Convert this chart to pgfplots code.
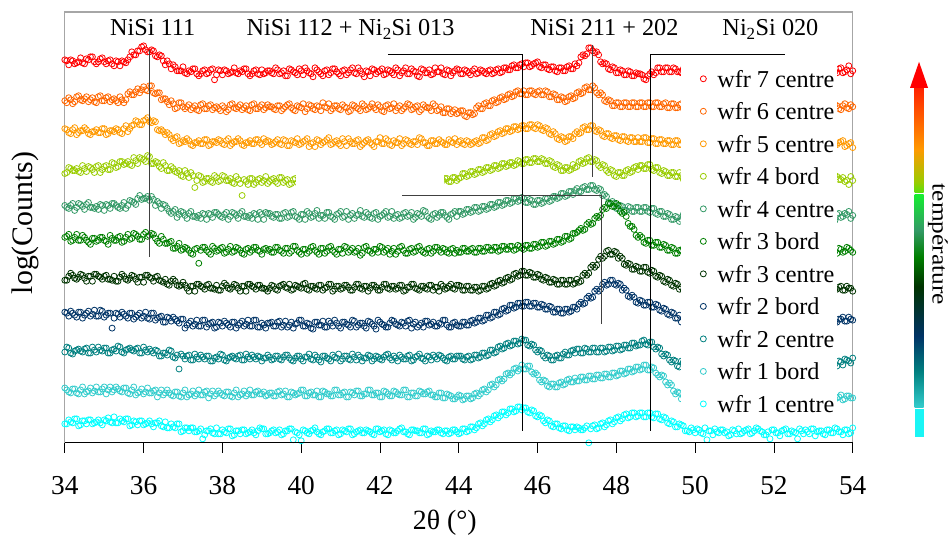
\documentclass[border=0pt]{standalone}
\usepackage{pgfplots}
\pgfplotsset{compat=1.18}
\usepackage{pgfplotstable}
\usepackage{fontspec}
\setmainfont{Liberation Serif}
\newcommand\fs[1]{\fontsize{#1}{#1}\selectfont}
\definecolor{c1}{HTML}{FF0000}
\definecolor{c2}{HTML}{FF6600}
\definecolor{c3}{HTML}{FF9900}
\definecolor{c4}{HTML}{99CC00}
\definecolor{c5}{HTML}{339966}
\definecolor{c6}{HTML}{008000}
\definecolor{c7}{HTML}{003300}
\definecolor{c8}{HTML}{003366}
\definecolor{c9}{HTML}{008080}
\definecolor{c10}{HTML}{33CCCC}
\definecolor{c11}{HTML}{00FFFF}
\definecolor{g1}{HTML}{55E010}
\definecolor{g2}{HTML}{15EE30}
\definecolor{cy}{HTML}{1AF5F5}
\definecolor{rtop}{HTML}{FF2000}
\pgfdeclareverticalshading{topbar}{100bp}{color(0bp)=(g1); color(25bp)=(g1); color(30bp)=(c4); color(45.6bp)=(c3); color(58.2bp)=(c2); color(75bp)=(rtop); color(100bp)=(rtop)}
\pgfdeclareverticalshading{midbar}{100bp}{color(0bp)=(c10); color(25bp)=(c10); color(33.4bp)=(c9); color(41.7bp)=(c8); color(53.4bp)=(c7); color(60.3bp)=(c6); color(66.6bp)=(c5); color(75bp)=(g2); color(100bp)=(g2)}
\pgfplotstableread{
x s1 s2 s3 s4 s5 s6 s7 s8 s9 s10 s11
34.0 384 343 315 270 238 206 163 131 91 55 19
34.1 379 346 311 276 235 209 167 127 95 51 23
34.2 383 340 314 273 240 203 168 130 89 54 20
34.3 381 347 309 275 236 209 164 126 93 50 24
34.4 386 344 313 271 239 203 169 131 92 53 18
34.5 380 345 316 275 234 206 165 128 94 49 22
34.6 384 342 310 277 241 201 167 132 90 52 23
34.7 387 346 312 274 236 205 162 129 96 50 19
34.8 380 341 314 277 237 202 169 127 91 56 21
34.9 385 348 311 271 239 206 166 133 93 51 20
35.0 382 343 315 277 233 203 167 126 95 56 23
35.1 383 347 310 274 238 199 164 130 90 53 25
35.2 380 344 313 281 240 205 163 115 93 51 20
35.3 383 343 315 276 238 203 162 130 92 56 20
35.4 378 347 311 282 235 207 166 126 96 52 24
35.5 382 341 315 279 241 202 167 129 90 55 21
35.6 384 350 312 282 238 209 163 125 94 50 24
35.7 392 349 318 278 242 205 168 130 93 53 18
35.8 389 352 323 283 239 209 164 126 94 48 21
35.9 393 351 319 286 248 204 166 130 90 51 22
36.0 398 357 323 284 245 209 161 127 96 49 18
36.1 392 353 326 288 247 207 168 125 91 55 20
36.2 394 358 321 280 247 210 165 130 92 50 19
36.3 388 350 322 282 238 205 166 123 93 53 20
36.4 389 351 313 277 240 200 163 126 87 50 22
36.5 383 345 312 281 239 204 161 121 90 48 16
36.6 383 342 311 273 235 200 159 126 88 53 15
36.7 375 343 305 277 230 202 162 122 92 48 19
36.8 377 335 306 272 234 195 162 124 85 51 15
36.9 373 341 300 273 229 200 157 120 74 47 19
37.0 377 337 303 267 231 194 161 124 87 50 12
37.1 370 337 305 270 225 195 155 118 87 46 15
37.2 372 334 299 271 232 190 157 122 83 49 15
37.3 375 338 301 256 227 194 152 119 89 47 11
37.4 368 333 303 268 228 180 159 117 84 53 12
37.5 373 340 300 261 230 196 156 123 86 48 4
37.6 370 335 304 265 224 193 158 116 87 52 12
37.7 374 339 299 262 229 189 155 120 82 49 14
37.8 364 336 302 268 231 195 154 115 85 47 9
37.9 374 335 304 262 229 193 153 121 84 52 9
38.0 369 338 300 268 226 196 157 117 88 48 13
38.1 373 332 303 263 231 191 158 120 82 51 10
38.2 371 339 298 265 227 197 154 116 86 47 14
38.3 376 336 302 260 230 192 159 121 85 50 8
38.4 370 337 305 264 225 195 155 118 87 46 12
38.5 372 334 299 248 232 190 157 122 83 49 13
38.6 375 338 301 262 227 194 152 119 89 47 9
38.7 368 333 303 265 228 191 159 117 84 53 11
38.8 373 340 300 259 230 196 156 123 86 48 10
38.9 370 335 304 264 224 193 158 116 87 52 12
39.0 374 339 299 261 229 189 155 120 82 49 14
39.1 371 336 302 267 231 195 154 115 85 47 9
39.2 373 337 302 262 230 194 155 120 86 50 10
39.3 370 335 300 265 226 191 157 117 84 47 13
39.4 374 338 304 260 229 196 153 121 87 51 11
39.5 371 333 299 266 225 192 158 116 83 48 8
39.6 368 337 303 263 231 195 156 122 88 52 12
39.7 375 340 298 259 227 190 159 118 85 46 14
39.8 372 334 302 264 232 197 154 115 82 50 3
39.9 369 338 305 261 226 193 157 120 87 49 10
40.0 373 336 300 264 229 189 155 123 84 53 2
40.1 376 332 303 262 224 194 160 117 86 47 12
40.2 371 339 297 265 230 192 153 119 89 50 9
40.3 367 335 301 263 227 197 157 114 83 48 13
40.4 374 338 304 260 233 191 154 121 86 52 11
40.5 370 333 299 266 228 195 158 118 81 46 8
40.6 373 337 302 262 225 190 155 116 87 51 12
40.7 369 340 306 264 231 196 159 122 84 49 14
40.8 375 335 300 261 226 193 152 117 88 47 10
40.9 372 338 303 265 229 189 157 120 85 53 13
41.0 368 334 298 263 232 194 154 115 82 48 9
41.1 374 337 302 260 227 197 158 121 87 51 12
41.2 371 332 305 266 224 191 156 118 84 46 14
41.3 376 339 300 262 230 195 153 123 89 50 8
41.4 370 336 303 264 228 192 159 116 83 52 11
41.5 373 333 297 261 233 188 155 120 86 47 13
41.6 367 338 301 265 226 196 157 117 85 49 10
41.7 372 335 304 263 229 193 152 122 88 53 12
41.8 375 340 299 260 225 190 158 119 82 48 9
41.9 370 334 302 266 231 194 156 114 87 50 14
42.0 373 337 306 262 227 197 153 121 84 46 11
42.1 369 332 300 264 230 191 159 118 86 52 13
42.2 374 339 303 261 226 195 155 116 89 49 8
42.3 371 336 298 265 232 192 157 123 83 47 12
42.4 376 333 301 263 228 189 154 119 85 51 10
42.5 368 338 305 260 225 196 158 117 88 48 14
42.6 373 335 300 266 230 193 152 120 84 53 11
42.7 370 340 303 262 227 190 156 122 87 46 9
42.8 375 334 299 264 231 195 159 115 82 50 13
42.9 372 337 302 261 226 192 155 121 86 47 12
43.0 367 332 306 265 229 197 153 118 89 52 10
43.1 374 339 301 263 233 191 157 116 84 49 14
43.2 371 336 298 260 227 194 154 122 87 51 8
43.3 369 333 303 266 224 190 158 119 83 48 12
43.4 376 338 300 262 230 196 156 117 86 46 11
43.5 372 334 304 264 228 193 152 120 88 50 13
43.6 370 331 301 263 231 195 157 123 85 45 9
43.7 374 335 299 265 226 191 155 118 82 49 12
43.8 368 330 302 262 229 194 159 116 87 47 10
43.9 373 334 305 266 232 190 154 121 84 44 13
44.0 374 331 302 265 232 191 158 117 87 48 9
44.1 370 333 300 270 229 195 153 121 84 43 14
44.2 373 327 303 267 234 192 157 118 86 47 11
44.3 369 331 299 272 231 194 153 122 83 44 16
44.4 375 330 302 269 236 191 156 120 88 49 13
44.5 371 338 300 274 232 195 152 125 85 47 19
44.6 373 335 306 271 237 192 157 122 90 53 17
44.7 370 341 303 276 234 196 154 128 87 51 23
44.8 374 338 309 273 239 193 159 125 93 58 21
44.9 371 344 307 278 236 196 157 131 90 56 27
45.0 375 342 312 275 241 192 162 128 96 63 25
45.1 372 347 310 280 238 197 160 134 94 62 31
45.2 376 345 315 277 243 194 165 132 99 69 28
45.3 374 350 312 281 240 197 163 138 97 68 34
45.4 379 348 317 278 245 193 169 135 102 74 31
45.5 376 353 314 283 242 198 167 140 99 72 36
45.6 380 350 318 280 246 195 172 137 104 78 33
45.7 381 349 315 284 241 198 168 141 103 74 35
45.8 377 353 319 281 244 195 171 137 97 77 30
45.9 380 350 316 285 239 199 166 140 98 69 32
46.0 382 352 319 282 243 196 169 136 91 68 26
46.1 376 349 314 285 240 201 164 139 92 61 27
46.2 379 353 316 280 245 197 166 134 85 62 20
46.3 374 347 310 283 242 202 161 137 87 56 22
46.4 377 350 312 277 247 199 164 131 83 59 16
46.5 372 344 305 279 245 204 159 134 88 56 19
46.6 376 347 307 273 250 201 163 130 85 61 14
46.7 373 342 302 276 247 207 159 134 91 59 17
46.8 378 347 307 273 252 204 163 131 88 64 12
46.9 375 345 305 279 249 210 159 136 93 61 16
47.0 378 351 312 277 255 211 164 134 94 62 16
47.1 387 350 311 283 252 215 162 141 90 66 13
47.2 388 356 317 281 257 214 170 140 95 63 15
47.3 396 354 314 286 254 221 170 147 91 67 0
47.4 393 358 318 282 258 220 178 146 95 64 17
47.5 392 351 312 283 253 227 178 154 91 68 14
47.6 382 351 313 276 254 228 187 154 95 65 19
47.7 381 343 307 278 249 236 187 161 91 69 16
47.8 375 344 310 271 241 240 193 159 96 66 22
47.9 377 338 305 273 242 237 189 163 92 70 19
48.0 371 341 308 267 235 240 191 158 97 67 25
48.1 374 337 303 271 238 232 187 159 93 72 22
48.2 369 341 307 268 233 231 179 155 98 69 28
48.3 373 337 302 274 237 220 180 147 95 74 25
48.4 368 341 306 272 232 217 174 148 100 71 30
48.5 371 337 302 277 236 208 177 141 97 76 26
48.6 370 341 302 278 232 208 172 143 98 73 30
48.7 365 337 306 275 236 201 176 138 103 78 26
48.8 368 341 301 279 232 203 171 141 98 73 30
48.9 372 337 305 274 235 198 173 136 101 76 26
49.0 371 341 300 276 230 201 167 139 94 70 29
49.1 376 337 304 271 232 196 168 133 95 66 24
49.2 372 340 300 273 227 199 162 135 87 67 26
49.3 376 336 303 268 230 193 164 129 88 58 20
49.4 372 340 299 271 224 196 158 131 81 58 22
49.5 375 336 303 267 227 190 160 125 82 49 16
49.6 372 339 299 271 222 193 154 128 76 50 19
49.7 375 335 302 264 229 195 153 125 81 47 17
49.8 371 339 298 268 225 191 157 121 77 43 12
49.9 374 336 301 265 228 194 154 124 80 46 15
50.0 370 338 299 267 226 192 156 122 78 44 10
50.1 375 335 302 264 229 195 153 125 81 47 13
50.2 372 339 298 268 225 191 157 121 77 43 9
50.3 376 336 303 263 230 196 152 126 82 48 3
50.4 370 338 299 267 226 190 158 120 78 44 12
50.5 374 334 301 265 228 194 155 124 80 46 14
50.6 371 340 297 269 224 192 154 122 76 45 10
50.7 375 336 302 264 230 195 157 125 81 48 13
50.8 372 338 300 266 227 191 153 121 79 43 11
50.9 369 335 303 263 225 194 156 124 82 47 8
51.0 374 339 298 268 229 192 154 122 78 44 12
51.1 371 336 301 265 226 196 157 125 80 46 14
51.2 376 338 299 267 230 190 153 121 77 45 10
51.3 372 334 302 264 227 194 156 123 81 47 13
51.4 370 340 298 268 224 192 154 126 79 43 9
51.5 375 336 303 265 229 195 157 122 82 48 12
51.6 371 338 299 267 226 191 153 124 78 44 14
51.7 374 335 301 263 230 194 156 121 80 46 11
51.8 372 339 298 268 225 192 155 125 77 45 8
51.9 369 336 302 265 228 196 153 122 81 47 4
52.0 375 338 300 267 227 190 157 124 79 43 13
52.1 371 334 303 264 229 194 154 121 82 46 10
52.2 376 340 297 268 225 192 156 125 78 44 12
52.3 372 336 301 265 230 195 153 122 80 48 14
52.4 370 338 299 267 226 191 157 124 77 45 9
52.5 374 335 302 263 228 194 154 121 81 47 11
52.6 371 339 298 268 224 192 156 125 79 43 4
52.7 375 336 303 265 229 196 153 123 82 46 12
52.8 372 338 299 267 227 190 157 121 78 44 13
52.9 369 334 301 264 230 194 154 124 80 48 9
53.0 374 340 298 268 225 192 156 122 77 45 14
53.1 371 336 302 265 228 195 153 125 81 47 11
53.2 376 338 300 267 226 191 157 121 79 43 12
53.3 372 335 303 263 230 194 155 124 82 46 8
53.4 370 339 298 268 227 192 153 122 78 44 13
53.5 374 336 301 265 224 196 156 125 80 47 10
53.6 371 338 299 267 229 190 154 121 77 45 14
53.7 376 334 302 264 226 194 157 124 81 48 11
53.8 372 340 297 262 230 192 153 122 84 44 13
53.9 378 335 300 259 232 195 155 126 82 47 9
54.0 373 337 296 263 228 191 152 123 85 45 15
}\data
\pgfplotstableread{
x s1 s2 s3 s4 s5 s6 s7 s8 s9 s10 s11
34.05 383 341 314 271 236 207 163 130 96 53 19
34.15 384 344 310 275 238 202 170 132 90 50 21
34.25 380 342 316 273 233 206 165 128 92 54 24
34.35 382 348 311 272 240 203 166 131 94 49 17
34.45 381 343 313 278 237 208 168 125 91 56 22
34.55 385 347 314 272 239 203 162 130 95 51 19
34.65 387 344 309 276 236 199 167 127 90 55 23
34.75 382 342 312 271 235 205 169 133 93 52 20
34.85 382 347 311 278 234 203 167 127 96 51 23
34.95 386 343 315 274 238 206 164 132 92 54 18
35.05 380 346 309 278 239 202 168 128 95 49 22
35.15 384 342 313 274 235 208 164 130 90 56 21
35.25 378 345 312 280 240 203 167 125 94 53 26
35.35 382 341 314 277 236 206 162 129 97 54 20
35.45 383 344 310 282 238 201 169 131 91 51 22
35.55 381 344 318 280 235 206 164 127 93 55 24
35.65 387 352 315 279 243 204 165 130 95 49 17
35.75 389 349 319 286 241 210 167 124 92 56 22
35.85 393 355 322 280 245 207 161 128 95 50 18
35.95 397 354 319 285 244 204 166 125 90 54 22
36.05 394 354 324 282 245 211 168 131 93 51 19
36.15 392 358 322 287 243 208 166 124 94 50 22
36.25 393 351 323 280 244 209 162 130 90 52 16
36.35 387 351 314 281 242 202 167 125 92 46 20
36.45 388 344 314 275 235 207 162 127 87 53 17
36.55 379 345 309 278 238 200 164 121 90 50 21
36.65 380 339 309 273 232 201 158 125 93 50 15
36.75 379 340 303 275 232 195 164 126 86 47 16
36.85 373 336 307 271 226 197 158 122 88 51 19
36.95 373 341 301 268 232 193 158 124 89 46 11
37.05 371 335 302 273 228 196 158 115 84 53 15
37.15 373 339 303 266 230 193 152 120 88 48 12
37.25 375 336 298 268 227 189 157 117 83 52 15
37.35 370 334 301 263 226 195 159 123 86 49 11
37.45 370 339 300 267 225 193 157 117 88 48 14
37.55 374 335 304 262 229 196 154 123 84 51 8
37.65 371 338 298 265 230 191 159 119 87 45 12
37.75 375 334 302 261 226 197 155 121 82 52 10
37.85 369 337 301 266 231 192 158 116 86 49 15
37.95 373 333 303 263 227 195 153 120 89 50 9
38.05 374 336 299 267 229 190 160 122 83 47 11
38.15 370 334 305 263 224 194 155 118 85 51 14
38.25 372 340 300 261 231 191 156 121 87 46 7
38.35 371 335 302 267 228 196 158 115 84 53 12
38.45 373 339 303 260 230 193 152 120 88 48 9
38.55 375 336 298 264 227 189 157 117 83 52 13
38.65 370 334 301 259 226 195 159 123 86 49 10
38.75 370 339 300 265 225 193 157 117 88 48 13
38.85 374 335 304 261 229 196 154 123 84 51 8
38.95 369 337 301 265 231 192 158 116 86 49 15
39.05 370 334 305 263 224 194 155 118 85 51 14
39.15 373 339 303 260 230 193 152 120 88 48 9
39.25 371 337 299 264 227 191 158 121 83 50 12
39.35 376 334 302 262 229 196 154 117 87 47 10
39.45 370 338 300 266 225 193 157 122 84 52 13
39.55 373 335 304 261 230 190 159 118 86 49 9
39.65 368 339 298 264 226 195 155 116 88 46 12
39.75 374 336 303 260 231 192 153 121 83 51 14
39.85 371 333 301 265 227 197 158 119 85 48 11
39.95 375 337 299 262 224 191 156 123 87 50 8
40.05 369 340 302 264 229 194 159 117 82 53 13
40.15 373 335 305 261 232 190 154 120 86 47 10
40.25 370 338 300 266 226 196 157 115 84 51 12
40.35 376 334 297 263 230 193 155 121 88 48 15
40.45 372 337 303 260 225 189 158 118 83 46 9
40.55 368 341 301 265 228 195 153 122 87 52 11
40.65 374 336 304 262 231 192 156 116 85 49 14
40.75 371 333 299 264 227 197 159 120 82 47 10
40.85 375 338 302 261 224 191 154 123 86 53 12
40.95 370 335 300 266 230 194 157 117 89 48 8
41.05 373 339 305 263 226 190 155 121 84 50 13
41.15 369 336 298 260 232 196 158 119 87 46 11
41.25 374 333 302 265 228 193 153 116 83 51 14
41.35 371 338 300 262 225 191 156 122 86 48 9
41.45 376 335 304 264 229 195 159 118 88 52 12
41.55 370 340 299 261 227 190 154 120 82 47 10
41.65 373 334 303 266 231 197 157 115 85 49 13
41.75 368 337 301 263 226 192 155 121 87 53 11
41.85 374 336 297 260 230 194 158 117 84 48 8
41.95 372 339 302 265 224 191 153 123 86 50 14
42.05 375 333 300 262 228 196 156 119 83 46 12
42.15 370 338 305 264 232 193 159 116 88 51 9
42.25 373 335 299 261 227 189 154 120 85 47 13
42.35 369 340 303 266 225 195 157 122 87 52 10
42.45 374 336 301 263 229 192 155 118 82 49 12
42.55 371 333 298 260 226 197 158 121 86 48 15
42.65 376 337 304 265 231 190 153 117 84 53 11
42.75 370 339 300 262 228 194 156 123 88 46 8
42.85 373 335 302 264 224 191 159 119 83 50 13
42.95 368 338 299 261 230 196 154 116 87 47 12
43.05 375 334 305 266 227 193 157 120 85 51 10
43.15 371 337 301 263 232 190 155 122 82 49 14
43.25 374 336 298 260 225 195 158 118 86 52 9
43.35 370 340 303 265 229 192 153 121 88 48 11
43.45 372 333 300 262 226 196 156 117 84 46 13
43.55 376 337 302 264 231 191 159 119 87 50 10
43.65 369 331 299 265 228 194 154 123 83 45 12
43.75 373 335 304 262 224 190 157 116 86 48 9
43.85 371 332 301 266 230 195 155 120 84 44 13
43.95 375 330 299 263 227 193 158 118 87 46 11
44.05 370 333 303 266 232 191 157 117 87 47 10
44.15 374 328 299 270 230 195 153 121 83 44 14
44.25 371 331 302 268 234 192 157 118 87 47 12
44.35 373 329 300 272 232 195 153 123 84 45 16
44.45 370 336 303 270 236 191 156 121 88 50 15
44.55 374 335 301 274 233 195 153 125 86 49 20
44.65 371 340 306 272 237 192 157 123 90 54 19
44.75 373 338 304 276 235 196 155 128 88 53 24
44.85 370 343 310 274 239 193 160 126 93 59 23
44.95 374 341 308 278 237 196 158 131 91 58 28
45.05 371 346 313 276 241 193 163 129 97 64 27
45.15 376 344 311 280 239 197 161 135 95 64 31
45.25 374 349 315 278 243 194 166 133 100 70 30
45.35 378 347 313 281 241 197 164 138 98 70 34
45.45 376 352 317 279 245 194 170 136 102 75 32
45.55 379 350 315 282 243 197 168 140 100 74 36
45.65 377 353 318 280 245 194 172 137 103 74 35
45.75 381 349 315 284 241 198 168 141 98 77 31
45.85 378 353 319 281 243 195 170 137 99 71 33
45.95 381 349 315 285 239 199 166 140 93 70 27
46.05 377 353 318 282 243 197 168 136 93 63 28
46.15 379 349 313 284 241 201 163 138 87 63 22
46.25 375 352 315 280 245 198 165 134 88 57 23
46.35 377 347 309 282 243 202 161 136 83 59 17
46.45 373 349 310 276 247 200 163 131 87 56 19
46.55 376 344 304 278 246 204 159 134 85 60 15
46.65 373 346 306 273 250 202 163 130 89 58 17
46.75 377 343 303 276 248 207 159 134 88 63 13
46.85 375 348 307 274 252 205 163 132 92 61 16
46.95 380 346 310 276 253 210 160 136 90 65 13
47.05 381 352 310 282 252 213 161 139 94 62 15
47.15 389 351 316 280 256 213 168 139 90 66 13
47.25 390 357 314 285 254 219 168 145 94 63 17
47.35 396 354 318 282 258 219 176 145 91 67 14
47.45 391 356 313 284 254 225 176 152 95 64 18
47.55 389 349 314 278 255 226 184 152 91 68 15
47.65 380 349 308 279 248 234 185 159 95 65 20
47.75 380 342 310 273 247 235 192 158 92 69 18
47.85 374 343 306 274 240 240 189 163 96 66 23
47.95 376 338 308 268 240 237 192 159 93 70 21
48.05 371 341 304 271 235 238 185 160 97 68 26
48.15 373 337 307 268 237 230 185 153 94 72 24
48.25 369 341 303 273 233 227 178 153 98 70 29
48.35 372 337 306 271 236 217 179 146 95 74 26
48.45 368 341 302 276 232 214 174 146 100 72 30
48.55 370 337 306 274 236 206 176 140 98 76 27
48.65 369 341 302 278 232 206 172 142 102 74 30
48.75 364 337 306 275 236 200 176 138 99 78 26
48.85 370 341 301 279 231 203 170 141 101 73 30
48.95 369 337 305 273 235 198 172 136 96 75 25
49.05 376 341 300 276 229 201 166 138 96 68 29
49.15 372 337 304 270 232 196 167 132 89 68 23
49.25 376 341 300 272 227 198 161 134 89 61 25
49.35 372 336 303 268 229 193 163 128 83 60 19
49.45 376 340 299 271 224 195 157 130 83 52 21
49.55 372 336 303 267 226 190 159 125 77 51 16
49.65 371 340 299 268 224 193 156 121 82 44 18
49.75 374 334 302 265 226 195 152 124 83 46 12
49.85 374 340 302 263 229 193 151 124 82 44 11
49.95 372 339 297 267 229 191 158 123 81 41 13
50.05 371 335 304 266 223 194 154 122 79 47 14
50.15 371 335 300 262 225 195 158 127 80 45 10
50.25 370 338 300 268 230 192 157 120 80 45 15
50.35 372 336 301 270 227 196 157 119 78 49 12
50.45 375 336 303 264 228 196 153 127 78 47 8
50.55 375 337 298 269 228 190 159 126 77 43 11
50.65 376 337 297 267 226 189 156 121 77 48 13
50.75 376 335 301 263 225 197 154 125 76 48 10
50.85 373 341 299 264 230 191 155 125 81 42 7
50.95 371 340 299 268 224 193 156 121 82 44 13
51.05 374 334 302 265 226 195 152 124 83 46 9
51.15 374 340 302 263 229 193 151 124 82 44 9
51.25 372 339 297 267 229 191 158 123 81 41 12
51.35 371 335 304 266 223 194 154 122 79 47 14
51.45 371 335 300 262 225 195 158 127 80 45 10
51.55 370 338 300 268 230 192 157 120 80 45 15
51.65 372 336 301 270 227 196 157 119 78 49 12
51.75 375 336 303 264 228 196 153 127 78 47 8
51.85 375 337 298 269 228 190 159 126 77 43 11
51.95 376 337 297 267 226 189 156 121 77 48 13
52.05 376 335 301 263 225 197 154 125 76 48 10
52.15 373 341 299 264 230 191 155 125 81 42 7
52.25 370 339 300 267 225 194 157 120 83 45 13
52.35 375 335 303 264 227 196 153 126 79 47 9
52.45 373 338 298 268 229 192 158 123 82 42 12
52.55 376 336 301 263 224 196 155 124 77 48 10
52.65 370 339 300 269 231 191 156 121 80 44 14
52.75 374 333 303 265 226 195 152 125 84 46 9
52.85 375 338 297 268 228 189 160 126 78 43 11
52.95 371 336 305 266 222 193 154 122 80 47 14
53.05 373 341 299 264 231 190 155 124 81 42 7
53.15 372 336 302 270 227 197 157 118 78 50 12
53.25 374 340 302 262 229 193 151 123 83 44 9
53.35 377 337 297 267 226 189 157 121 77 48 13
53.45 370 334 300 261 225 195 158 127 81 45 10
53.55 372 339 299 268 223 192 154 121 79 44 15
53.65 375 335 301 264 230 195 156 124 82 46 11
53.75 371 338 303 266 227 191 153 126 78 43 8
53.85 374 336 298 263 229 196 157 122 83 47 13
53.95 370 339 301 267 225 193 155 124 80 45 10
}\datab
\pgfplotstablevertcat{\data}{\datab}
\begin{document}
\begin{tikzpicture}
\path (0,0) rectangle (951bp,543bp);
\begin{axis}[
  set layers,
  at={(65bp,99bp)}, anchor=south west,
  scale only axis, width=790bp, height=432bp,
  xmin=34, xmax=54, ymin=0, ymax=432,
  xtick={34,36,38,40,42,44,46,48,50,52,54},
  xticklabels={34,36,38,40,42,44,46,48,50,52,54},
  ytick=\empty,
  xtick pos=left, tick align=outside, major tick length=10bp,
  tick style={black, line width=0.8bp},
  axis line style={draw=black!35, line width=1.2bp},
  xticklabel style={font=\rmfamily\fs{27.5}, yshift=-20bp},
  legend cell align=left,
  legend style={at={(rel axis cs:0.7823,0.8889)}, anchor=north west,
    draw=none, fill=white, inner xsep=3bp, inner ysep=7.3bp,
    row sep=12.6bp, column sep=6bp, font=\fs{24.4},
    nodes={inner sep=0pt, text height=20bp, text depth=0bp, anchor=base west}},
  legend image code/.code={\path[draw=none,fill=none] (0bp,0bp) (27bp,0bp);
    \draw[mark repeat=2,mark phase=2,#1,only marks] plot coordinates {(12bp,8.5bp) (19bp,8.5bp) (26bp,8.5bp)};},
  every axis plot/.append style={only marks, mark=o, mark size=3bp, line width=0.8bp},
]
\addplot[c1, only marks] table[x=x,y=s1] {\data}; \addlegendentry{wfr 7 centre}
\addplot[c2, only marks] table[x=x,y=s2] {\data}; \addlegendentry{wfr 6 centre}
\addplot[c3, only marks] table[x=x,y=s3] {\data}; \addlegendentry{wfr 5 centre}
\addplot[c4, only marks] table[x=x,y=s4] {\data}; \addlegendentry{wfr 4 bord}
\addplot[c5, only marks] table[x=x,y=s5] {\data}; \addlegendentry{wfr 4 centre}
\addplot[c6, only marks] table[x=x,y=s6] {\data}; \addlegendentry{wfr 3 bord}
\addplot[c7, only marks] table[x=x,y=s7] {\data}; \addlegendentry{wfr 3 centre}
\addplot[c8, only marks] table[x=x,y=s8] {\data}; \addlegendentry{wfr 2 bord}
\addplot[c9, only marks] table[x=x,y=s9] {\data}; \addlegendentry{wfr 2 centre}
\addplot[c10, only marks] table[x=x,y=s10] {\data}; \addlegendentry{wfr 1 bord}
\addplot[c11, only marks] table[x=x,y=s11] {\data}; \addlegendentry{wfr 1 centre}
\begin{pgfonlayer}{axis foreground}
\fill[white] (axis cs:39.87,248) rectangle (axis cs:43.62,290);
\draw[black!75, line width=1bp] (axis cs:36.15,394) -- (axis cs:36.15,186);
\draw[black, line width=1bp] (axis cs:42.20,389) -- (axis cs:45.62,389) -- (axis cs:45.62,12);
\draw[black!75, line width=1bp] (axis cs:47.39,399) -- (axis cs:47.39,267);
\draw[black, line width=1bp] (axis cs:52.28,389) -- (axis cs:48.86,389) -- (axis cs:48.86,12);
\draw[black!75, line width=1bp] (axis cs:42.56,248) -- (axis cs:47.62,248) -- (axis cs:47.62,119);
\draw[black, line width=1.2bp] (rel axis cs:0,0) -- (rel axis cs:1,0);
\end{pgfonlayer}
\end{axis}
\begin{scope}[x=1bp, y=-1bp, yshift=543bp]
\node[font=\fs{24.4}, anchor=base] at (153,36) {NiSi 111};
\node[font=\fs{24.4}, anchor=base] at (351.5,36) {NiSi 112 + Ni\textsubscript{2}Si 013};
\node[font=\fs{24.4}, anchor=base] at (606,36) {NiSi 211 + 202};
\node[font=\fs{24.4}, anchor=base] at (772.5,36) {Ni\textsubscript{2}Si 020};
\node[font=\fs{24.4}, anchor=base] at (371.5,179) {Ni\textsubscript{3}Si\textsubscript{2} 350};
\node[font=\fs{28}, anchor=base] at (446,531) {2θ (°)};
\node[font=\fs{30}, anchor=base, rotate=90] at (32.5,223.5) {log(Counts)};
\node[font=\fs{22}, anchor=base, rotate=-90] at (935,245) {\scalebox{1.16}[1]{température}};
\fill[cy] (917,438) rectangle (926,410);
\shade[shading=midbar] (917,408.5) rectangle (926,195);
\shade[shading=topbar] (917,193.5) rectangle (926,87);
\fill[c1] (912.5,88) -- (921.5,62) -- (930.5,88) -- cycle;
\end{scope}
\end{tikzpicture}
\end{document}
